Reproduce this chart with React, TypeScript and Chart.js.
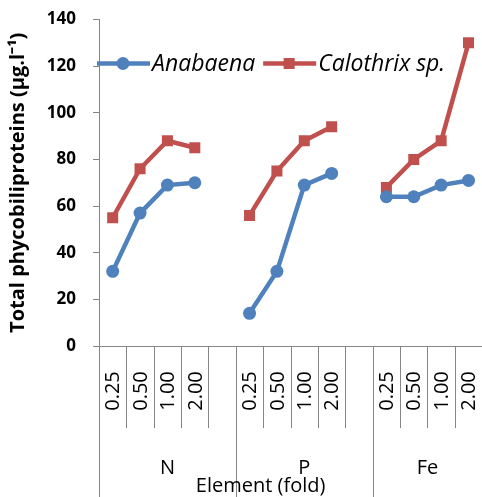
import { useEffect, useRef } from 'react';
import { Chart, registerables } from 'chart.js';

Chart.register(...registerables);

// ---- data ----
const categories = ['0.25', '0.50', '1.00', '2.00', '', '0.25', '0.50', '1.00', '2.00', '', '0.25', '0.50', '1.00', '2.00'];
const groupLabels = ['N', 'P', 'Fe'];
const groupStarts = [0, 5, 10]; // first category index of each group
const anabaena = [32, 57, 69, 70, null, 14, 32, 69, 74, null, 64, 64, 69, 71];
const calothrix = [55, 76, 88, 85, null, 56, 75, 88, 94, null, 68, 80, 88, 130];
const seriesNames = ['Anabaena', 'Calothrix sp.'];
const yMin = 0;
const yMax = 140;
const yStep = 20;

const BLUE = '#4F81BD';
const RED = '#C0504D';
const AXIS = '#868686';
const FONT = '"Open Sans", sans-serif';

const multiLevelAxis = {
  id: 'multiLevelAxis',
  afterDraw(chart: any) {
    const { ctx, chartArea, scales } = chart;
    const x = scales.x;
    const n = categories.length;
    const half = (x.getPixelForValue(1) - x.getPixelForValue(0)) / 2;
    const axisY = chartArea.bottom;
    const bottom = chart.height;
    const innerEnd = axisY + 82;
    ctx.save();
    ctx.strokeStyle = AXIS;
    ctx.lineWidth = 1;
    for (let i = 0; i <= n; i++) {
      const bx = Math.round(x.getPixelForValue(i) - half) + 0.5;
      const isGroup = groupStarts.includes(i) || i === n;
      ctx.beginPath();
      ctx.moveTo(bx, axisY);
      ctx.lineTo(bx, isGroup ? bottom : innerEnd);
      ctx.stroke();
    }
    // inner labels (rotated)
    ctx.fillStyle = '#000';
    ctx.font = `400 20px ${FONT}`;
    ctx.textAlign = 'center';
    ctx.textBaseline = 'middle';
    for (let i = 0; i < n; i++) {
      if (!categories[i]) continue;
      const cx = x.getPixelForValue(i);
      ctx.save();
      ctx.translate(cx, axisY + 45);
      ctx.rotate(-Math.PI / 2);
      ctx.fillText(categories[i], 0, 1);
      ctx.restore();
    }
    // group labels
    for (let g = 0; g < groupLabels.length; g++) {
      const s = groupStarts[g];
      const e = g + 1 < groupStarts.length ? groupStarts[g + 1] : n;
      const gx = (x.getPixelForValue(s) - half + x.getPixelForValue(e - 1) + half) / 2;
      ctx.fillText(groupLabels[g], gx, axisY + 122);
    }
    // axis title
    ctx.fillText('Element (fold)', (chartArea.left + chartArea.right) / 2 - 30, axisY + 140);
    ctx.restore();
  },
  afterDatasetsDraw(chart: any) {
    const { ctx, chartArea } = chart;
    const y = chartArea.top + 44;
    let lx = chartArea.left - 2;
    const items = [
      { text: seriesNames[0], color: BLUE, style: 'circle', radius: 6.5 },
      { text: seriesNames[1], color: RED, style: 'rect', radius: 7.8 },
    ];
    ctx.save();
    ctx.font = `italic 400 23px ${FONT}`;
    ctx.textBaseline = 'middle';
    ctx.textAlign = 'left';
    for (const it of items) {
      ctx.strokeStyle = it.color;
      ctx.fillStyle = it.color;
      ctx.lineWidth = 4.5;
      ctx.beginPath();
      ctx.moveTo(lx, y);
      ctx.lineTo(lx + 53, y);
      ctx.stroke();
      ctx.beginPath();
      if (it.style === 'circle') {
        ctx.arc(lx + 26, y, it.radius, 0, Math.PI * 2);
      } else {
        const s = it.radius * Math.SQRT1_2;
        ctx.rect(lx + 26 - s, y - s, 2 * s, 2 * s);
      }
      ctx.fill();
      ctx.fillStyle = '#000';
      ctx.fillText(it.text, lx + 55, y + 1);
      lx += 55 + ctx.measureText(it.text).width + 8;
    }
    ctx.restore();
  },
};

export default function App() {
  const ref = useRef<HTMLCanvasElement | null>(null);
  useEffect(() => {
    if (!ref.current) return;
    const chart = new Chart(ref.current, {
      type: 'line',
      data: {
        labels: categories,
        datasets: [
          {
            label: seriesNames[0],
            data: anabaena,
            borderColor: BLUE,
            backgroundColor: BLUE,
            borderWidth: 4.5,
            pointStyle: 'circle',
            pointRadius: 6.5,
            pointBorderWidth: 0,
            pointBackgroundColor: BLUE,
            spanGaps: false,
            tension: 0,
          },
          {
            label: seriesNames[1],
            data: calothrix,
            borderColor: RED,
            backgroundColor: RED,
            borderWidth: 4.5,
            pointStyle: 'rect',
            pointRadius: 7.8,
            pointBorderWidth: 0,
            pointBackgroundColor: RED,
            spanGaps: false,
            tension: 0,
          },
        ],
      },
      options: {
        responsive: false,
        animation: false,
        devicePixelRatio: 1,
        layout: { padding: { left: 0, right: 3, top: 19.5, bottom: 0 } },
        plugins: { legend: { display: false }, tooltip: { enabled: false } },
        scales: {
          x: {
            type: 'category',
            offset: true,
            grid: { display: false },
            border: { display: true, color: AXIS, width: 1 },
            ticks: { display: false },
            afterFit(scale: any) {
              scale.height = 151;
            },
          },
          y: {
            min: yMin,
            max: yMax,
            ticks: {
              stepSize: yStep,
              color: '#000',
              font: { family: FONT, size: 17, weight: 'bold' },
              padding: 17,
            },
            grid: { drawOnChartArea: false, drawTicks: true, tickLength: 6, color: AXIS },
            border: { display: true, color: AXIS, width: 1 },
            title: {
              display: true,
              text: 'Total phycobiliproteins (µg.l⁻¹)',
              color: '#000',
              font: { family: FONT, size: 20, weight: 'bold' },
              padding: { top: 6, bottom: 0 },
            },
            afterFit(scale: any) {
              scale.width = 99;
              scale.paddingTop = 0;
              scale.paddingBottom = 0;
            },
          },
        },
      },
      plugins: [multiLevelAxis],
    });
    return () => chart.destroy();
  }, []);
  return (
    <div style={{ position: 'fixed', left: 0, top: 0, width: 482, height: 497, overflow: 'hidden', background: '#fff' }}>
      <canvas ref={ref} width={490} height={497} style={{ display: 'block' }} />
    </div>
  );
}
